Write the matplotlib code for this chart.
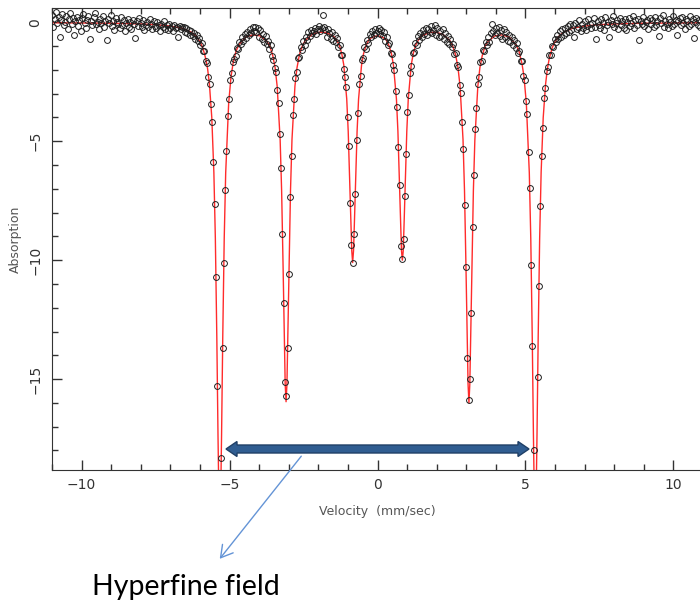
import numpy as np
import matplotlib
matplotlib.use("Agg")
import matplotlib.pyplot as plt
from matplotlib.patches import Polygon, FancyArrowPatch
from matplotlib.ticker import MultipleLocator

# measured spectrum, 501 channels between -11 and +11 mm/s
absorption = [
    0.31, -0.18, 0.12, 0.45, -0.05, 0.22, -0.62, 0.08, 0.36, -0.12, 0.02, 0.28, -0.27, 0.15, 0.41, -0.08, 0.19, -0.52, 0.05, 0.24,
    -0.15, 0.09, -0.36, 0.18, 0.33, -0.02, -0.22, 0.11, 0.27, -0.71, 0.06, -0.11, 0.21, 0.38, -0.09, 0.03, -0.28, 0.14, -0.05, 0.25,
    -0.19, 0.07, -0.76, 0.12, -0.03, 0.29, -0.14, 0.05, -0.31, 0.18, 0.01, -0.08, -0.24, 0.22, -0.12, 0.09, -0.37, -0.02, 0.14, -0.19,
    0.03, -0.27, 0.11, -0.09, -0.66, 0.06, -0.15, 0.17, -0.05, -0.21, 0.08, -0.33, -0.11, 0.02, -0.18, 0.13, -0.07, -0.29, 0.04, -0.14,
    -0.22, 0.01, -0.13, -0.38, -0.06, -0.19, 0.05, -0.27, -0.12, -0.31, -0.08, -0.24, -0.17, -0.35, -0.11, -0.26, -0.19, -0.63, -0.15, -0.28, -0.21,
    -0.19, -0.41, -0.26, -0.47, -0.31, -0.52, -0.36, -0.58, -0.44, -0.71, -0.52, -0.79, -0.68, -0.97, -0.88, -1.21, -1.19, -1.63, -1.71, -2.28,
    -2.59, -3.45, -4.21, -5.86, -7.62, -10.7, -15.3, -19.2, -20.8, -18.3, -13.7, -10.1, -7.05, -5.41, -3.93, -3.22, -2.41, -2.13, -1.65,
    -1.55, -1.42, -1.08, -1.12, -0.84, -0.91, -0.62, -0.77, -0.48, -0.66, -0.39, -0.52, -0.28, -0.44, -0.21, -0.35, -0.18, -0.41, -0.26, -0.62,
    -0.33, -0.71, -0.49, -0.83, -0.58, -0.92, -0.79, -1.14, -0.96, -1.41, -1.58, -1.93, -2.08,
    -2.86, -3.38, -4.71, -6.12, -8.9, -11.8, -15.1, -15.7, -13.7, -10.6, -7.33, -5.62, -3.91, -3.24, -2.33, -2.11, -1.52, -1.46,
    -1.03, -1.15, -0.78, -0.94, -0.61, -0.73, -0.42, -0.59, -0.31, -0.47, -0.36, -0.22, -0.51, -0.29, -0.14, -0.38, -0.25, 0.30, -0.19, -0.33,
    -0.61, -0.27, -0.44, -0.69, -0.41, -0.77, -0.52, -0.81, -0.68, -1.02, -0.94, -1.37, -1.39, -1.95, -2.31, -2.74, -3.97, -5.21, -7.58, -9.35,
    -10.1, -8.92, -7.21, -4.93, -3.82, -2.61, -2.27, -1.58, -1.51, -1.06, -1.13, -0.74, -0.86, -0.49, -0.63, -0.35, -0.52, -0.29, -0.47, -0.38,
    -0.26, -0.51, -0.33, -0.58, -0.42, -0.77, -0.64, -0.97, -0.88, -1.29, -1.33, -1.81, -2.02, -2.88, -3.57, -5.24, -6.86, -9.41, -9.93, -9.12,
    -7.29, -5.55, -3.78, -3.05, -2.12, -1.84, -1.31, -1.26, -0.86, -0.97, -0.59, -0.74, -0.43, -0.62, -0.31, -0.48, -0.22, -0.54, -0.28, -0.39,
    -0.17, -0.45, -0.31, -0.12, -0.52, -0.26, -0.63, -0.35, -0.58, -0.29,
    -0.71, -0.46, -0.82, -0.57, -0.91, -0.72, -1.06, -0.93, -1.34, -1.28, -1.79, -1.86, -2.62, -2.96, -4.18, -5.31, -7.68, -10.3, -14.1, -15.88,
    -15.0, -12.2, -8.61, -6.41, -4.49, -3.61, -2.58, -2.29, -1.67, -1.62, -1.15, -1.21, -0.82, -0.95, -0.61, -0.84, -0.43, -0.06, -0.36, -0.55,
    -0.24, -0.47, -0.19, -0.58, -0.33, -0.72, -0.29, -0.64, -0.41, -0.78, -0.52, -0.83, -0.61, -0.96, -0.74, -1.07, -0.89, -1.31, -1.19, -1.64,
    -1.61, -2.27, -2.44, -3.31, -3.84, -5.46, -6.95, -10.2, -13.6, -18.0, -20.6, -19.1, -14.9, -11.1, -7.71, -5.62, -4.44, -3.18, -2.77, -2.03,
    -1.86, -1.39, -1.36, -0.98, -1.05, -0.71, -0.83, -0.54, -0.69, -0.38, -0.61, -0.29, -0.52, -0.22, -0.44, -0.15, -0.39, -0.08, -0.33,
    -0.12, -0.64, -0.03, -0.27, -0.18, 0.09, -0.35, -0.06, -0.22, 0.04, -0.31, -0.14, 0.12, -0.09, -0.26, -0.01, 0.16, -0.19, -0.71, 0.07, -0.11,
    -0.24, 0.14, -0.05, -0.32, 0.21, -0.13, 0.03, -0.62, 0.11, -0.07, 0.26, -0.18, -0.02, 0.09, -0.29, 0.17, -0.10, 0.05, -0.22, 0.13,
    -0.34, 0.02, 0.19, -0.15, -0.04, 0.28, -0.23, 0.08, -0.11, 0.15, -0.74, 0.06, -0.08, 0.24, -0.17, 0.01, 0.11, -0.27, 0.18, -0.06,
    0.09, -0.21, 0.23, -0.12, 0.04, -0.58, 0.16, -0.03, 0.31, -0.19, 0.07, -0.09, -0.25, 0.13, 0.02, -0.15, 0.27, -0.06, 0.10, -0.55,
    0.05, 0.18, -0.13, 0.22, -0.02, -0.28, 0.12, 0.06, -0.17, 0.25, -0.07, 0.14, -0.66, 0.03, 0.19, -0.11, 0.08, -0.21, 0.16, -0.04,
]
velocity = np.linspace(-11.0, 11.0, len(absorption))   # channel velocities

# fitted sextet (red line)
fit_velocity = [
    -11, -10, -9, -8, -7.5, -7, -6.6, -6.3, -6.15, -6.0, -5.9, -5.8, -5.74, -5.68, -5.6, -5.53, -5.48, -5.43, -5.39, -5.36,
    -5.33, -5.30, -5.27, -5.23, -5.18, -5.13, -5.03, -4.95, -4.88, -4.78, -4.68, -4.45, -4.21, -3.97, -3.74, -3.64, -3.54, -3.46, -3.39, -3.29,
    -3.24, -3.19, -3.15, -3.12, -3.09, -3.06, -3.03, -2.99, -2.94, -2.89, -2.79, -2.72, -2.64, -2.54, -2.44, -2.2, -1.97, -1.74, -1.49, -1.39,
    -1.29, -1.21, -1.14, -1.04, -0.99, -0.94, -0.90, -0.87, -0.84, -0.81, -0.78, -0.74, -0.69, -0.64, -0.54, -0.47, -0.39, -0.29, -0.2, 0,
    0.2, 0.29, 0.39, 0.47, 0.54, 0.64, 0.69, 0.74, 0.78, 0.81, 0.84, 0.87, 0.90, 0.94, 0.99, 1.04, 1.14, 1.21, 1.29, 1.39,
    1.49, 1.74, 1.97, 2.2, 2.44, 2.54, 2.64, 2.72, 2.79, 2.89, 2.94, 2.99, 3.03, 3.06, 3.09, 3.12, 3.15, 3.19, 3.24, 3.29,
    3.39, 3.46, 3.54, 3.64, 3.74, 3.97, 4.21, 4.45, 4.68, 4.78, 4.88, 4.95, 5.03, 5.13, 5.18, 5.23, 5.27, 5.30, 5.33, 5.36,
    5.39, 5.43, 5.48, 5.53, 5.6, 5.68, 5.74, 5.8, 5.9, 6.0, 6.15, 6.3, 6.6, 7, 7.5, 8, 9, 10, 11,
]
fit_absorption = [
    -0.02, -0.03, -0.04, -0.07, -0.10, -0.16, -0.25, -0.41, -0.56, -0.81, -1.09, -1.55, -1.97, -2.60, -4.01, -6.30, -9.07, -13.26, -17.38, -20.01,
    -21.07, -20.01, -17.39, -13.27, -9.09, -6.32, -3.41, -2.28, -1.72, -1.21, -0.94, -0.62, -0.53, -0.57, -0.80, -0.99, -1.40, -1.91, -2.70, -4.94,
    -7.08, -10.31, -13.2, -15.2, -15.95, -15.2, -13.2, -10.30, -7.07, -4.93, -2.68, -1.91, -1.37, -0.99, -0.76, -0.50, -0.42, -0.43, -0.58, -0.73,
    -0.96, -1.31, -1.79, -3.22, -4.58, -6.64, -8.4, -9.6, -10.1, -9.6, -8.4, -6.64, -4.59, -3.23, -1.81, -1.31, -0.99, -0.73, -0.65, -0.56,
    -0.65, -0.73, -0.99, -1.31, -1.81, -3.23, -4.59, -6.64, -8.4, -9.6, -10.0, -9.6, -8.4, -6.64, -4.58, -3.22, -1.79, -1.31, -0.96, -0.73,
    -0.58, -0.43, -0.42, -0.50, -0.76, -0.99, -1.37, -1.91, -2.68, -4.93, -7.07, -10.30, -13.2, -15.2, -16.0, -15.2, -13.2, -10.31, -7.08, -4.94,
    -2.70, -1.91, -1.40, -0.99, -0.80, -0.57, -0.53, -0.62, -0.94, -1.21, -1.72, -2.28, -3.41, -6.32, -9.09, -13.27, -17.39, -20.01, -21.07, -20.01,
    -17.38, -13.26, -9.07, -6.30, -4.01, -2.60, -1.97, -1.55, -1.09, -0.81, -0.56, -0.41, -0.25, -0.16, -0.10, -0.07, -0.04, -0.03, -0.02,
]

x_ticks = [-10, -5, 0, 5, 10]
y_ticks = [0, -5, -10, -15]

W, H = 700, 606
fig = plt.figure(figsize=(W / 100, H / 100), dpi=100)
ax = fig.add_axes([52 / W, 136 / H, 651 / W, 462 / H])

ax.plot(fit_velocity, fit_absorption, color="#ff2b2b", lw=1.0, zorder=2)
ax.plot(velocity, absorption, ls="none", marker="o", ms=4.2, mfc="none",
        mec="#1e1e1e", mew=0.7, zorder=3)

ax.set_xlim(-11, 11)
ax.set_ylim(-18.82, 0.6)
ax.set_xticks(x_ticks)
ax.set_yticks(y_ticks)
ax.xaxis.set_minor_locator(MultipleLocator(1))
ax.yaxis.set_minor_locator(MultipleLocator(1))
ax.tick_params(which="both", direction="in", top=True, right=False,
               color="#333333", labelcolor="#333333", labelsize=10, width=1)
ax.tick_params(which="major", length=7)
ax.tick_params(which="minor", length=4)
ax.tick_params(axis="x", pad=6)
ax.tick_params(axis="y", pad=7, labelrotation=90)
for lbl in ax.get_yticklabels():
    lbl.set_va("center")
for s in ax.spines.values():
    s.set_color("#333333")
ax.spines["right"].set_visible(False)

fig.text(377 / W, 1 - 512 / H, "Velocity  (mm/sec)", ha="center", va="center",
         fontsize=9, color="#555555")
fig.text(15 / W, 1 - 239 / H, "Absorption", rotation=90, ha="center", va="center",
         fontsize=9, color="#555555")

# thin pointer from the arrow to the caption
def fpos(px, py):
    return (px / W, 1 - py / H)

pointer = FancyArrowPatch(fpos(303, 454), fpos(218, 561), transform=fig.transFigure,
                          arrowstyle="->,head_length=0.6,head_width=0.35",
                          mutation_scale=14, color="#6494d6", lw=1.0, zorder=5)
fig.add_artist(pointer)

# thick double arrow (hyperfine splitting)
cy = 449
pts = [(226, cy), (237, cy - 7.5), (237, cy - 4), (518, cy - 4), (518, cy - 7.5),
       (529, cy), (518, cy + 7.5), (518, cy + 4), (237, cy + 4), (237, cy + 7.5)]
arrow = Polygon([fpos(x, y) for x, y in pts], closed=True, transform=fig.transFigure,
                facecolor="#305d91", edgecolor="#1f3f66", lw=1.0, zorder=6)
fig.add_artist(arrow)

fig.text(92 / W, 1 - 595 / H, "Hyperfine field", ha="left", va="baseline",
         fontsize=20.5, family=["Lato", "DejaVu Sans"], color="black")

fig.savefig("out.png", dpi=100)
